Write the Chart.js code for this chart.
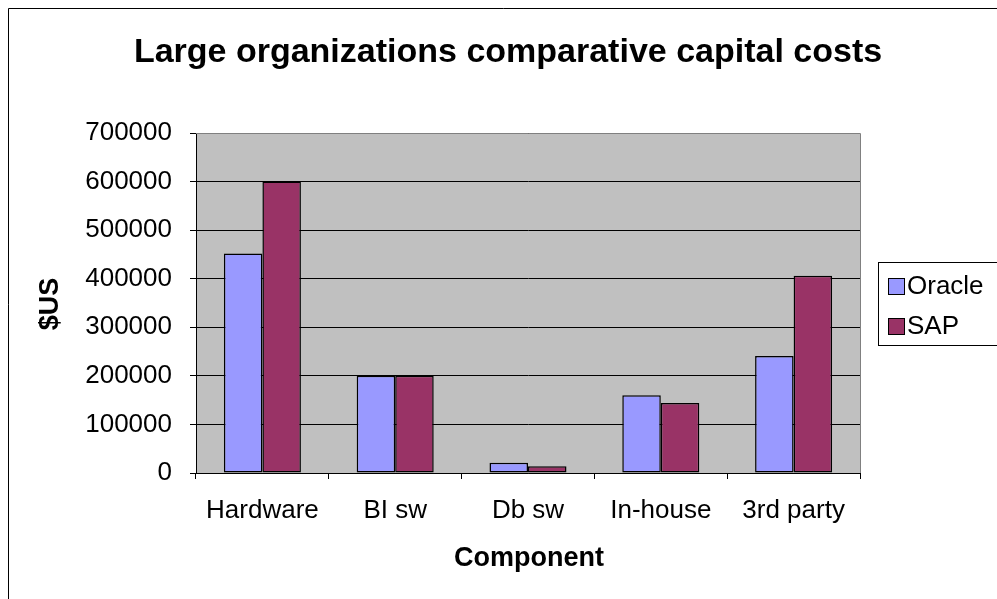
<!DOCTYPE html>
<html lang="en">
<head>
<meta charset="UTF-8">
<title>Large organizations comparative capital costs</title>
<script src="https://cdn.jsdelivr.net/npm/chart.js"></script>
<style>
  body { margin: 0; background: #fff; }
  #wrap { width: 997px; height: 599px; position: relative; }
</style>
</head>
<body>
<div id="wrap"><canvas id="grafico" width="997" height="599"></canvas></div>
<script>
  const categorias = ["Hardware", "BI sw", "Db sw", "In-house", "3rd party"];
  const oracle = [452000, 200000, 21000, 160000, 241000];
  const sap = [600000, 200000, 14000, 144000, 406000];
  const yTicks = [0, 100000, 200000, 300000, 400000, 500000, 600000, 700000];

  const titulo = "Large organizations comparative capital costs";
  const tituloY = "$US";
  const tituloX = "Component";

  const FONTE = "'Liberation Sans', Arial, sans-serif";

  // moldura, fundo cinza, titulos e legenda no estilo do Excel
  const extras = {
    id: 'extras',
    beforeDraw(chart) {
      const { ctx, chartArea: a } = chart;
      ctx.save();
      ctx.fillStyle = '#C0C0C0';
      ctx.fillRect(a.left, a.top, a.right - a.left, a.bottom - a.top);
      ctx.restore();
    },
    afterDraw(chart) {
      const { ctx, chartArea: a } = chart;
      ctx.save();
      // moldura externa
      ctx.strokeStyle = '#000';
      ctx.lineWidth = 1;
      ctx.beginPath();
      ctx.moveTo(8.5, 600);
      ctx.lineTo(8.5, 8.5);
      ctx.lineTo(1000, 8.5);
      ctx.stroke();
      // borda cinza da area do grafico
      ctx.strokeStyle = '#808080';
      ctx.beginPath();
      ctx.moveTo(a.left, a.top + 0.5);
      ctx.lineTo(a.right + 0.5, a.top + 0.5);
      ctx.lineTo(a.right + 0.5, a.bottom);
      ctx.stroke();

      ctx.fillStyle = '#000';
      ctx.textAlign = 'center';
      ctx.textBaseline = 'middle';
      ctx.font = "bold 34px " + FONTE;
      ctx.fillText(titulo, 508, 53);

      ctx.font = "bold 27px " + FONTE;
      ctx.fillText(tituloX, 529, 559);
      ctx.save();
      ctx.translate(51, 304);
      ctx.rotate(-Math.PI / 2);
      ctx.fillText(tituloY, 0, 0);
      ctx.restore();

      // legenda
      ctx.strokeStyle = '#000';
      ctx.strokeRect(878.5, 262.5, 130, 83);
      ctx.font = "26px " + FONTE;
      ctx.textAlign = 'left';
      chart.data.datasets.forEach((ds, i) => {
        const y = 286 + i * 40;
        ctx.fillStyle = ds.backgroundColor;
        ctx.fillRect(888, y - 8, 17, 17);
        ctx.strokeStyle = '#000';
        ctx.strokeRect(888.5, y - 7.5, 16, 16);
        ctx.fillStyle = '#000';
        ctx.fillText(ds.label, 907, y + 1);
      });
      ctx.restore();
    }
  };

  new Chart(document.getElementById('grafico'), {
    type: 'bar',
    data: {
      labels: categorias,
      datasets: [
        {
          label: 'Oracle',
          data: oracle,
          backgroundColor: '#9999FF',
          borderColor: '#000',
          borderWidth: 1.5,
          borderSkipped: false
        },
        {
          label: 'SAP',
          data: sap,
          backgroundColor: '#993366',
          borderColor: '#000',
          borderWidth: 1.5,
          borderSkipped: false
        }
      ]
    },
    options: {
      responsive: false,
      animation: false,
      layout: { padding: { top: 133, right: 137, left: 0, bottom: 0 } },
      datasets: { bar: { categoryPercentage: 0.58, barPercentage: 1.0 } },
      plugins: {
        legend: { display: false },
        title: { display: false },
        tooltip: { enabled: false }
      },
      scales: {
        x: {
          afterFit(s) { s.height = 126; },
          grid: { drawOnChartArea: false, drawTicks: true, tickLength: 6, color: '#000', offset: true },
          border: { color: '#000', width: 1 },
          ticks: { color: '#000', font: { size: 26, family: FONTE }, padding: 16, maxRotation: 0 }
        },
        y: {
          min: 0,
          max: 700000,
          afterFit(s) { s.width = 196; },
          afterBuildTicks(s) { s.ticks = yTicks.map(v => ({ value: v })); },
          grid: { color: '#000', tickLength: 6, tickColor: '#000' },
          border: { color: '#000', width: 1 },
          ticks: {
            color: '#000',
            font: { size: 26, family: FONTE },
            padding: 18,
            callback: v => String(v)
          }
        }
      }
    },
    plugins: [extras]
  });
</script>
</body>
</html>
